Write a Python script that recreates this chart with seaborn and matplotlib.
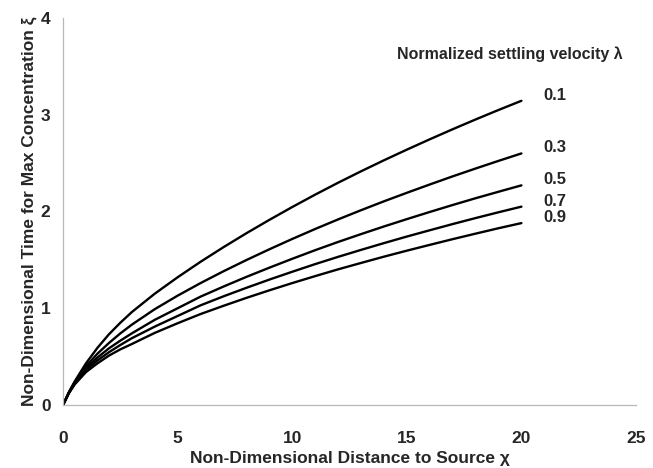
"""Time of peak concentration vs distance for several settling velocities."""

import pandas as pd
import matplotlib.pyplot as plt
from matplotlib.ticker import MultipleLocator
import seaborn as sns

# distance to source (non-dimensional)
chi = [0, 0.25, 0.5, 1, 1.5, 2, 2.5, 3, 4, 5, 6, 7, 8, 9, 10, 11, 12, 13, 14, 15, 16, 17, 18, 19, 20]

# time of max concentration, per settling velocity
xi_01 = [0, 0.13, 0.24, 0.43, 0.59, 0.73, 0.85, 0.96, 1.15, 1.32, 1.48, 1.631, 1.775, 1.913,
         2.046, 2.174, 2.297, 2.415, 2.529, 2.639, 2.746, 2.85, 2.951, 3.049, 3.144]
xi_03 = [0, 0.125, 0.23, 0.40, 0.53, 0.64, 0.74, 0.83, 0.99, 1.13, 1.26, 1.382, 1.498, 1.609,
         1.716, 1.819, 1.918, 2.013, 2.105, 2.193, 2.279, 2.363, 2.444, 2.523, 2.60]
xi_05 = [0, 0.125, 0.225, 0.38, 0.49, 0.585, 0.665, 0.74, 0.88, 1.00, 1.12, 1.224, 1.324, 1.419,
         1.511, 1.60, 1.685, 1.766, 1.845, 1.921, 1.995, 2.067, 2.137, 2.204, 2.27]
xi_07 = [0, 0.12, 0.215, 0.36, 0.46, 0.545, 0.62, 0.69, 0.81, 0.92, 1.03, 1.123, 1.211, 1.296,
         1.377, 1.456, 1.531, 1.603, 1.673, 1.741, 1.806, 1.87, 1.932, 1.992, 2.05]
xi_09 = [0, 0.12, 0.21, 0.34, 0.43, 0.51, 0.575, 0.63, 0.745, 0.845, 0.94, 1.025, 1.107, 1.185,
         1.26, 1.332, 1.402, 1.468, 1.533, 1.595, 1.655, 1.714, 1.771, 1.827, 1.88]

lambdas = ["0.1", "0.3", "0.5", "0.7", "0.9"]
series = [xi_01, xi_03, xi_05, xi_07, xi_09]

df = pd.concat(
    [pd.DataFrame({"chi": chi, "xi": s, "lam": lam}) for lam, s in zip(lambdas, series)],
    ignore_index=True,
)

sns.set_style("white")
plt.rcParams["font.family"] = ["Liberation Sans", "DejaVu Sans"]
plt.rcParams["font.weight"] = "bold"

fig = plt.figure(figsize=(6.53, 4.68), dpi=100)
ax = fig.add_axes([0.0965, 0.1346, 0.8775, 0.827])

sns.lineplot(data=df, x="chi", y="xi", hue="lam", palette=["black"] * 5,
             linewidth=1.7, legend=False, ax=ax)

# value labels next to each curve end
for lam, s in zip(lambdas, series):
    ax.annotate(lam, xy=(chi[-1], s[-1]), xytext=(16, 4), textcoords="offset points",
                ha="left", va="center", fontsize=12, fontweight="bold")

ax.text(14.55, 3.63, "Normalized settling velocity λ", ha="left", va="center",
        fontsize=11.5, fontweight="bold")

ax.set_xlim(0, 25)
ax.set_ylim(0, 4)
ax.xaxis.set_major_locator(MultipleLocator(5))
ax.xaxis.set_minor_locator(MultipleLocator(2.5))
ax.yaxis.set_major_locator(MultipleLocator(1))
ax.yaxis.set_minor_locator(MultipleLocator(0.5))

grey = "#b8b8b8"
for side in ["top", "right"]:
    ax.spines[side].set_visible(False)
for side in ["left", "bottom"]:
    ax.spines[side].set_color(grey)
    ax.spines[side].set_linewidth(0.9)

ax.tick_params(axis="x", which="major", direction="out", length=9.5, width=0.9,
               color=grey, pad=9, labelsize=12.5)
ax.tick_params(axis="x", which="minor", direction="out", length=4.5, width=0.9, color=grey)
ax.tick_params(axis="y", which="major", direction="out", length=6, width=0.9,
               color=grey, pad=3, labelsize=12.5)
ax.tick_params(axis="y", which="minor", direction="out", length=3.6, width=0.9, color=grey)
for lbl in ax.get_xticklabels() + ax.get_yticklabels():
    lbl.set_fontweight("bold")

ax.set_xlabel("Non-Dimensional Distance to Source χ", fontsize=12.5, fontweight="bold", labelpad=4)
ax.set_ylabel("Non-Dimensional Time for Max Concentration ξ", fontsize=12.5,
              fontweight="bold", labelpad=3)

fig.savefig("out.png", dpi=100)
